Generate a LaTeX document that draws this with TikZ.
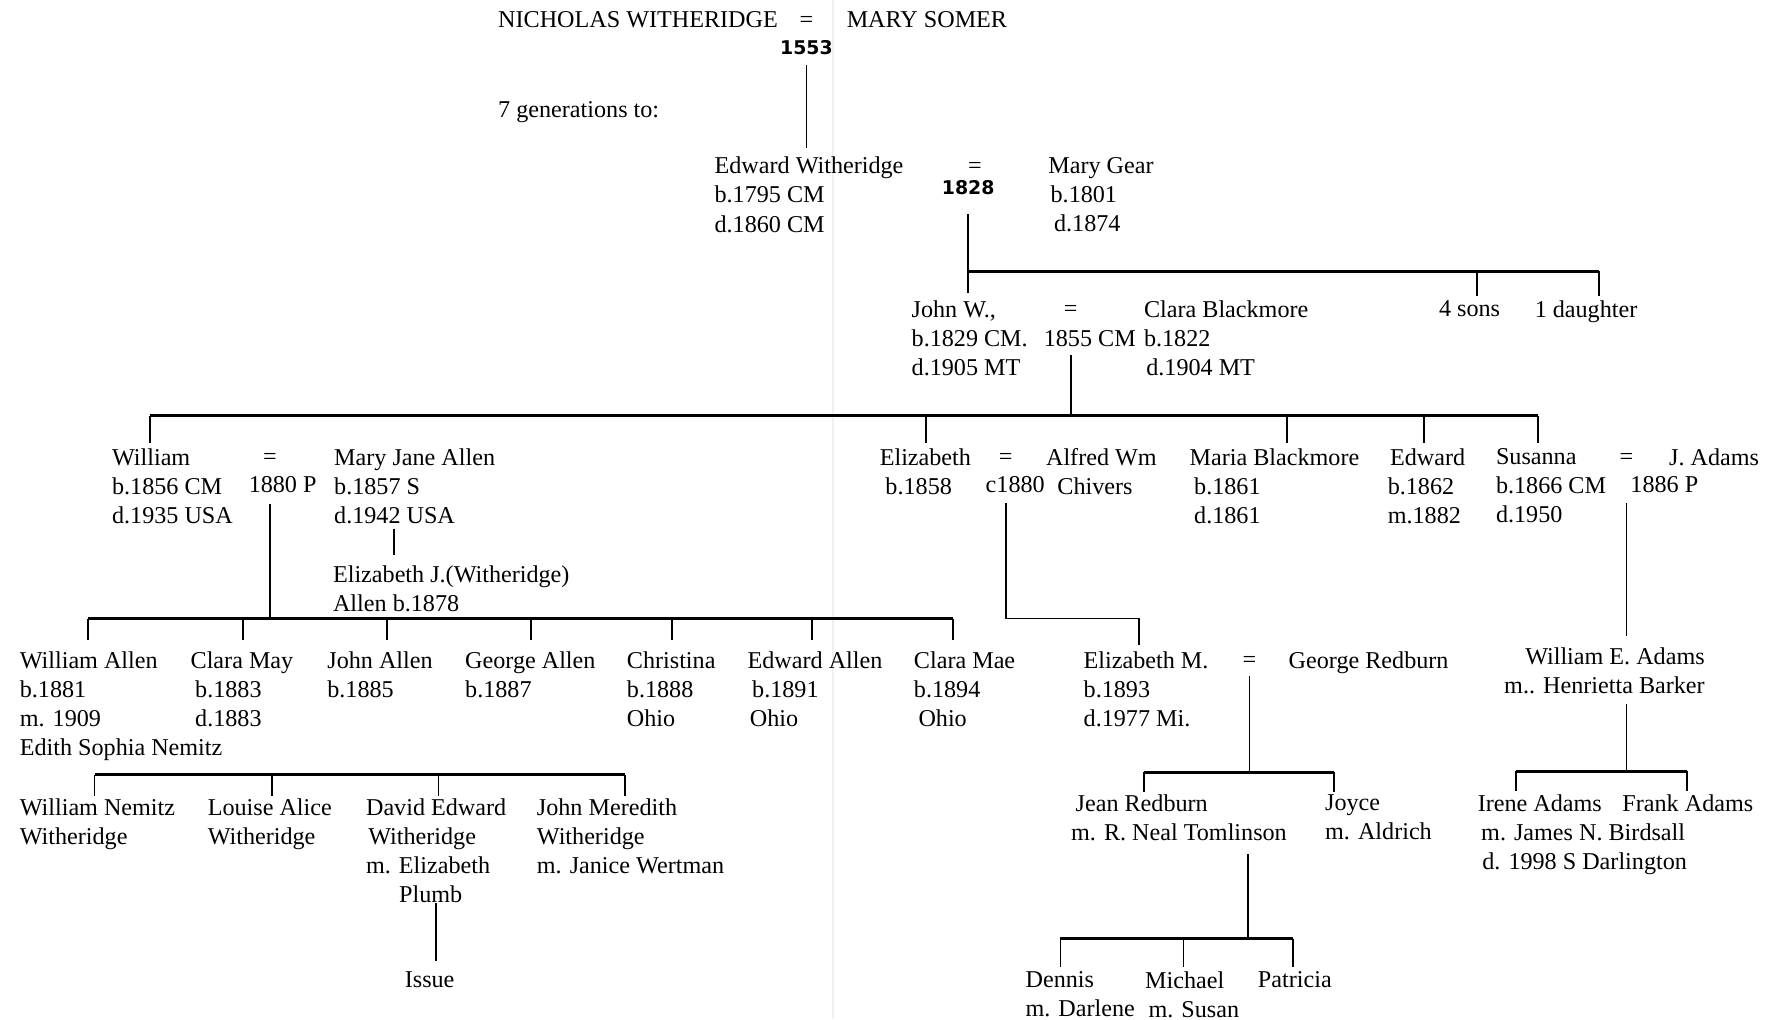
\documentclass[tikz,border=0pt]{standalone}
\usepackage{fontspec}
\setmainfont{Liberation Serif}
\newfontfamily\handfont{DejaVu Sans}
\begin{document}
\begin{tikzpicture}[x=0.5pt,y=-0.5pt,
    person/.style={align=left,anchor=north west,yshift=7.2pt,inner sep=0pt,font=\fontsize{10.6}{12.75}\selectfont},
    marr/.style={anchor=base,inner sep=0pt,font=\fontsize{10.6}{12.75}\selectfont},
    hand/.style={inner sep=0pt,font=\handfont\bfseries\fontsize{8.3}{9}\selectfont},
    tie/.style={line width=0.8pt},
    busline/.style={line width=1.3pt}]
\useasboundingbox (0,0) rectangle (1568,895);

% Fold of the sheet
\draw[gray!12,line width=0.8pt] (731,0) -- (731,895);

% Nicholas Witheridge = Mary Somer
\node[person] (nich) at (437,24) {NICHOLAS WITHERIDGE};
\node[marr] (eq0) at (708,24) {=};
\node[person] (somer) at (743,24) {MARY SOMER};
\node[hand] (y1553) at (708,42) {1553};
\node[person] (gen) at (437,103) {7 generations to:};

% Edward Witheridge = Mary Gear
\node[person] (edw) at (627,152) {Edward Witheridge\\b.1795 CM\\d.1860 CM};
\node[marr] (eq1) at (856,152) {=};
\node[hand] (y1828) at (850,165) {1828};
\node[person] (gear) at (920,152) {Mary Gear\\\hspace*{1pt}b.1801\\\hspace*{2.5pt}d.1874};
\draw[tie,shorten <=4pt,shorten >=3.8pt] (y1553.south) -- (y1553.south |- edw.north);

% John W. = Clara Blackmore
\node[person] (john) at (800,278) {John W.,\\b.1829 CM.\\d.1905 MT};
\node[marr] (eq2) at (940,278) {=};
\node[person] (m1855) at (916,304) {1855 CM};
\node[person] (clara) at (1004,278) {Clara Blackmore\\b.1822\\\hspace*{1pt}d.1904 MT};
\node[person] (sons) at (1263,278) {4 sons};
\node[person] (dau) at (1347,278) {1 daughter};

% Children of Edward and Mary
\coordinate (b1s) at (1297,238);
\coordinate (b1d) at (1404,238);
\draw[tie,shorten <=8pt,shorten >=3.3pt] (y1828.south) -- (y1828.south |- john.north);
\draw[busline] (y1828.south |- b1d) -- (b1d);
\draw[tie,shorten >=2pt] (b1s) -- (b1s |- sons.north);
\draw[tie,shorten >=2pt] (b1d) -- (b1d |- dau.north);

% Children of John W. and Clara
\node[person] (will) at (98,408) {William\\b.1856 CM\\d.1935 USA};
\node[marr] (eq3) at (237,408) {=};
\node[person] (m1880) at (218,432) {1880 P};
\node[person] (mja) at (293,408) {Mary Jane Allen\\b.1857 S\\d.1942 USA};
\node[person] (ejw) at (292,511) {Elizabeth J.(Witheridge)\\Allen b.1878};
\node[person] (eliz) at (772,408) {Elizabeth\\\hspace*{2.5pt}b.1858};
\node[marr] (eq4) at (883,408) {=};
\node[person] (c1880) at (865,432) {c1880};
\node[person] (alfred) at (918,408) {Alfred Wm\\\hspace*{5pt}Chivers};
\node[person] (maria) at (1044,408) {Maria Blackmore\\\hspace*{2pt}b.1861\\\hspace*{2pt}d.1861};
\node[person] (edwd) at (1218,408) {\hspace*{1pt}Edward\\b.1862\\m.1882};
\node[person] (sus) at (1313,408) {Susanna\\b.1866 CM\\d.1950};
\node[marr] (eq5) at (1428,408) {=};
\node[person] (m1886) at (1431,432) {1886 P};
\node[person] (adams) at (1465,408) {J. Adams};

\coordinate (b2w) at (132,365);
\coordinate (b2e) at (813,365);
\coordinate (b2m) at (1130,365);
\coordinate (b2d) at (1250,365);
\coordinate (b2s) at (1350,365);
\draw[tie,shorten <=3.5pt] (eq2 |- m1855.south) -- (eq2 |- b2w);
\draw[busline] (b2w) -- (b2s);
\foreach \b/\n in {b2w/will,b2e/eliz,b2m/maria,b2d/edwd,b2s/sus}
  \draw[tie,shorten >=2.5pt] (\b) -- (\b |- \n.north);

% Mary Jane's daughter
\coordinate (mjd) at (346,464);
\draw[tie,shorten >=4.5pt] (mjd) -- (mjd |- ejw.north);

% Children of William and Mary Jane
\node[person] (wa) at (17,586) {William Allen\\b.1881\\m. 1909\\Edith Sophia Nemitz};
\node[person] (cmay) at (167,586) {Clara May\\\hspace*{2pt}b.1883\\\hspace*{2pt}d.1883};
\node[person] (jall) at (287,586) {John Allen\\b.1885};
\node[person] (gall) at (408,586) {George Allen\\b.1887};
\node[person] (chr) at (550,586) {Christina\\b.1888\\Ohio};
\node[person] (eall) at (656,586) {Edward Allen\\\hspace*{2pt}b.1891\\\hspace*{1pt}Ohio};
\node[person] (cmae) at (802,586) {Clara Mae\\b.1894\\\hspace*{2pt}Ohio};

\coordinate (b3a) at (77,543);
\coordinate (b3b) at (213,543);
\coordinate (b3c) at (340,543);
\coordinate (b3d) at (466,543);
\coordinate (b3e) at (590,543);
\coordinate (b3f) at (713,543);
\coordinate (b3g) at (837,543);
\draw[tie,shorten <=5pt] (eq3 |- m1880.south) -- (eq3 |- b3a);
\draw[busline] (b3a) -- (b3g);
\foreach \b/\n in {b3a/wa,b3b/cmay,b3c/jall,b3d/gall,b3e/chr,b3f/eall,b3g/cmae}
  \draw[tie,shorten >=4.8pt] (\b) -- (\b |- \n.north);

% Children of William Allen and Edith
\node[person] (wn) at (17,715) {William Nemitz\\Witheridge};
\node[person] (la) at (182,715) {Louise Alice\\Witheridge};
\node[person] (de) at (321,715) {David Edward\\\hspace*{1pt}Witheridge\\m. Elizabeth\\\hspace*{14.5pt}Plumb};
\node[person] (jmw) at (471,715) {John Meredith\\Witheridge\\m. Janice Wertman};
\node[person] (issue) at (355,867) {Issue};

\coordinate (b4a) at (83,680);
\coordinate (b4b) at (239,680);
\coordinate (b4c) at (385,680);
\coordinate (b4d) at (549,680);
\draw[busline] (b4a) -- (b4d);
\foreach \b/\n in {b4a/wn,b4b/la,b4c/de,b4d/jmw}
  \draw[tie,shorten >=1pt] (\b) -- (\b |- \n.north);
\draw[tie,shorten >=4.5pt] (de.south) -- (de.south |- issue.north);

% Elizabeth = Alfred: Elizabeth M. = George Redburn
\node[person] (elm) at (951,586) {Elizabeth M.\\b.1893\\d.1977 Mi.};
\node[marr] (eq6) at (1097,586) {=};
\node[person] (geo) at (1131,586) {George Redburn};
\coordinate (b5c) at (1000,543);
\draw[tie,shorten <=4.5pt,shorten >=2.5pt] (eq4 |- c1880.south) -- (eq4 |- b5c) -- (b5c) -- (b5c |- elm.north);

% Children of Elizabeth M. and George
\node[person] (jean) at (940,712) {\hspace*{2pt}Jean Redburn\\m. R. Neal Tomlinson};
\node[person] (joyce) at (1163,712) {Joyce\\m. Aldrich};
\coordinate (b5a) at (1004,678);
\coordinate (b5b) at (1171,678);
\draw[tie,shorten <=3.5pt] (eq6.south) -- (eq6 |- b5a);
\draw[busline] (b5a) -- (b5b);
\draw[tie,shorten >=1pt] (b5a) -- (b5a |- jean.north);
\draw[tie,shorten >=1pt] (b5b) -- (b5b |- joyce.north);

% Children of Jean
\node[person] (dennis) at (900,867) {Dennis\\m. Darlene};
\node[person] (michael) at (1005,867) {Michael\\\hspace*{1.5pt}m. Susan};
\node[person] (patricia) at (1104,867) {Patricia};
\coordinate (b6p) at (1096,824);
\coordinate (b6a) at (931,824);
\coordinate (b6b) at (1039,824);
\coordinate (b6c) at (1135,824);
\draw[tie,shorten <=5.5pt] (jean.south -| b6p) -- (b6p);
\draw[busline] (b6a) -- (b6c);
\foreach \b/\n in {b6a/dennis,b6b/michael,b6c/patricia}
  \draw[tie,shorten >=2pt] (\b) -- (\b |- \n.north);

% Susanna = J. Adams: William E. Adams
\node[person,anchor=north east,align=right] (wea) at (1497,583) {William E. Adams\\m.. Henrietta Barker};
\node[person] (irene) at (1297,712) {Irene Adams\\\hspace*{1.5pt}m. James N. Birdsall\\\hspace*{2pt}d. 1998 S Darlington};
\node[person] (frank) at (1424,712) {Frank Adams};
\coordinate (b7a) at (1331,677);
\coordinate (b7f) at (1481,677);
\draw[tie,shorten <=4.5pt,shorten >=5pt] (eq5 |- m1886.south) -- (eq5 |- wea.north);
\draw[tie,shorten <=4.2pt] (eq5 |- wea.south) -- (eq5 |- b7a);
\draw[busline] (b7a) -- (b7f);
\draw[tie,shorten >=1.5pt] (b7a) -- (b7a |- irene.north);
\draw[tie,shorten >=1.5pt] (b7f) -- (b7f |- frank.north);
\end{tikzpicture}
\end{document}
